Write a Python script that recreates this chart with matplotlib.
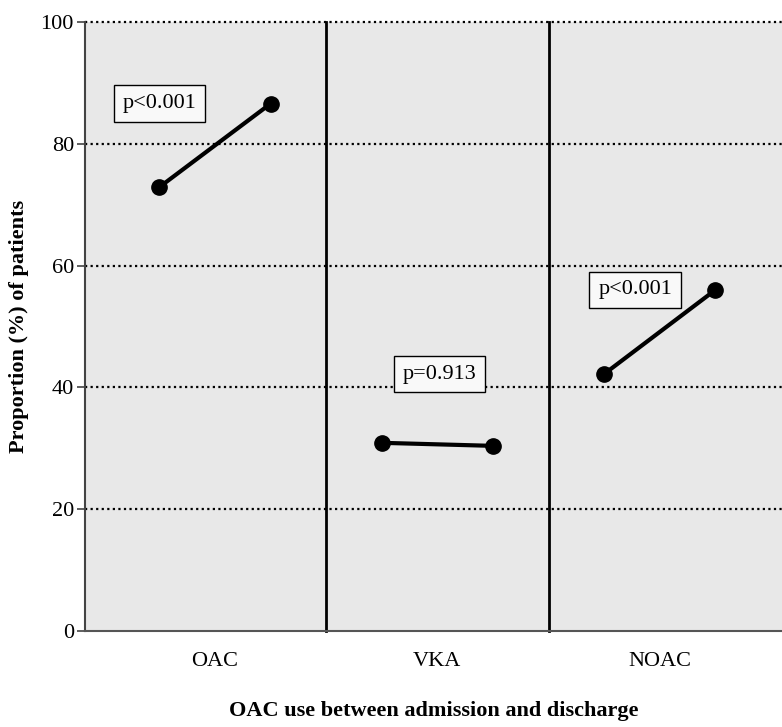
import numpy as np
import matplotlib.pyplot as plt

plt.rcParams['font.family'] = ['Liberation Serif', 'DejaVu Serif']

groups = ["OAC", "VKA", "NOAC"]
admission = [72.9, 30.9, 42.2]
discharge = [86.6, 30.4, 56.0]
p_labels = ["p<0.001", "p=0.913", "p<0.001"]
label_dx = [-0.25, 0.01, -0.11]
label_y = [86.6, 42.2, 56.0]

fig = plt.figure(figsize=(7.82, 7.27), dpi=100)
ax = fig.add_axes([85 / 782, 96 / 727, 1 - 85 / 782, 609 / 727])
ax.set_facecolor("#e8e8e8")

ax.set_xlim(-0.585, 2.55)
ax.set_ylim(0, 100)

for y in [20, 40, 60, 80, 100]:
    ax.axhline(y, color="black", linestyle=(0, (1, 1.5)), linewidth=1.6, zorder=1,
               clip_on=False)

for x in [0.5, 1.5]:
    ax.axvline(x, color="black", linewidth=2, zorder=2, clip_on=False)

off = 0.25
for i in range(len(groups)):
    ax.plot([i - off, i + off], [admission[i], discharge[i]], color="black",
            linewidth=3, marker="o", markersize=11, zorder=3)
    ax.text(i + label_dx[i], label_y[i], p_labels[i], fontsize=16, ha="center", va="center",
            zorder=4, bbox=dict(boxstyle="square,pad=0.4", facecolor="#f9f9f9",
                                edgecolor="black", linewidth=1))

ax.set_xticks(range(len(groups)))
ax.set_xticklabels(groups, fontsize=16)
ax.tick_params(axis="x", length=0, pad=15)
ax.set_yticks([0, 20, 40, 60, 80, 100])
ax.tick_params(axis="y", labelsize=16, length=6, width=1.2, color="#444444", pad=2)

for s in ["top", "right"]:
    ax.spines[s].set_visible(False)
ax.spines["left"].set_color("#444444")
ax.spines["left"].set_linewidth(1.5)
ax.spines["bottom"].set_color("#555555")
ax.spines["bottom"].set_linewidth(1.5)

ax.set_xlabel("OAC use between admission and discharge", fontsize=16,
              fontweight="bold", labelpad=22)
ax.set_ylabel("Proportion (%) of patients", fontsize=16, fontweight="bold", labelpad=8)

fig.savefig("out.png", dpi=100)
